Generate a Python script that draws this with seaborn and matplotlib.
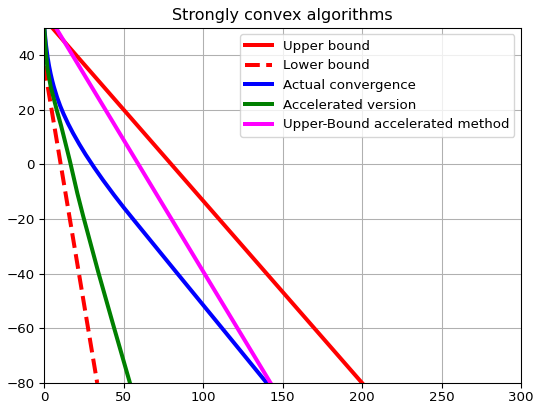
import matplotlib
matplotlib.use("Agg")
import matplotlib.pyplot as plt
import seaborn as sns

# Iteration counts and error levels (dB) for each method
upper_x = [0, 200]
upper_y = [53.3, -80]

lower_x = [0, 33.3]
lower_y = [36, -80]

actual_x = [0, 1, 2, 3, 4, 5, 6, 8, 10, 12, 15, 18, 22, 26, 31.5, 37, 44, 50, 56.6, 83, 109, 140]
actual_y = [50, 44, 39.5, 36, 33.1, 30.6, 28.4, 24.6, 21.4, 18.6, 14.85, 11.5, 7.4, 3.6,
            -1.24, -5.8, -11.3, -15.8, -20.55, -39.4, -57.9, -80]

accel_x = [0, 1, 2, 4, 6, 8, 10.5, 13, 16, 20.8, 24.5, 34, 44, 53.9]
accel_y = [50, 41, 35, 28.5, 24, 19.5, 14.3, 8.5, 1.5, -10.6, -19, -39.5, -60, -80]

ub_accel_x = [0, 142.4]
ub_accel_y = [57.0, -80]

series = [
    (upper_x, upper_y, "red", "-", "Upper bound"),
    (lower_x, lower_y, "red", "--", "Lower bound"),
    (actual_x, actual_y, "blue", "-", "Actual convergence"),
    (accel_x, accel_y, "green", "-", "Accelerated version"),
    (ub_accel_x, ub_accel_y, "magenta", "-", "Upper-Bound accelerated method"),
]

s = 0.96
plt.rcParams.update({
    "font.size": 10 * s,
    "xtick.major.size": 3.5 * s,
    "ytick.major.size": 3.5 * s,
    "xtick.major.pad": 2.6,
    "ytick.major.pad": 3.5 * s,
    "axes.linewidth": 0.8 * s,
    "grid.linewidth": 0.8 * s,
})

fig = plt.figure(figsize=(5.34, 4.03), dpi=100)
ax = fig.add_axes([44.3 / 534, 1 - 383 / 403, (521 - 44.3) / 534, (383 - 27.7) / 403])

for xs, ys, color, ls, label in series:
    sns.lineplot(x=xs, y=ys, color=color, linestyle=ls, linewidth=3 * s,
                 label=label, ax=ax, sort=False)

ax.set_xlim(0, 300)
ax.set_ylim(-80, 50)
ax.set_xticks([0, 50, 100, 150, 200, 250, 300])
ax.set_yticks([-80, -60, -40, -20, 0, 20, 40])
ax.grid(True)
ax.set_axisbelow(True)
ax.set_title("Strongly convex algorithms", fontsize=12 * s, pad=6 * s)
ax.legend(loc="upper right", fontsize=10 * s, borderaxespad=0.5)

fig.savefig("out.png", dpi=100)
